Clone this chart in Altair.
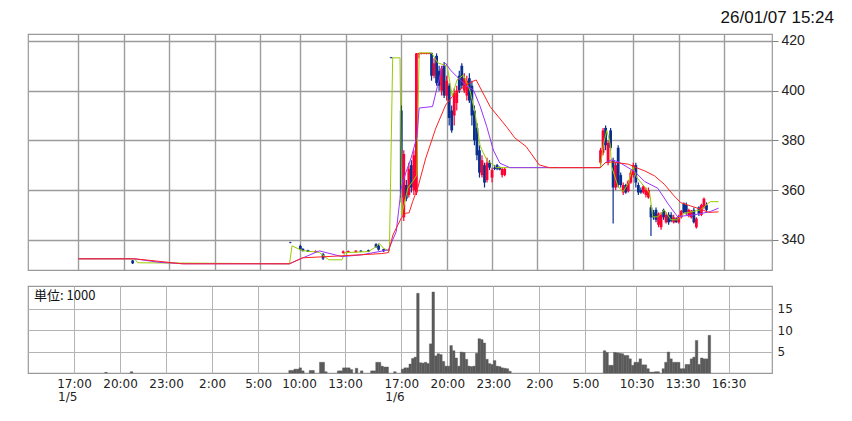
import altair as alt
import pandas as pd

# ---------------- axis definitions (x = compressed 10-minute trading slots) ----------------
tick_slots = [18, 36, 54, 72, 90, 106, 124, 146, 164, 182, 200, 218, 238, 256, 274]
tick_labels = ["17:00", "20:00", "23:00", "2:00", "5:00", "10:00", "13:00",
               "17:00", "20:00", "23:00", "2:00", "5:00", "10:30", "13:30", "16:30"]
date_slots = [18, 146]
date_labels = ["1/5", "1/6"]
price_ticks = [340, 360, 380, 400, 420]
vol_ticks = [5, 10, 15]
stamp_text = ["26/01/07 15:24"]
unit_text = ["単位: 1000"]

# ---------------- candles ----------------
c_slot = [23, 39.5,
          102, 106, 107, 109, 112, 115, 123, 125, 128, 130, 133, 136, 137, 139,
          142, 146, 147, 148, 149, 150, 151, 152, 153, 154, 155, 156, 157, 158, 159, 160,
          161, 162, 163, 164, 165, 166, 167, 168, 169, 170, 171, 172, 173, 174, 175, 176,
          177, 178, 179, 180, 181, 182, 183, 184, 185, 186, 187,
          225, 226, 227, 228, 229, 230, 231, 232, 233, 234, 235, 236, 237, 238, 239, 240,
          241, 242, 243, 244, 245, 246, 247, 248, 249, 250, 251, 252, 253, 254, 255, 256,
          257, 258, 259, 260, 261, 262, 263, 264, 265, 266, 267]
c_open = [332.2, 331.6,
          339.0, 337.5, 336.3, 335.8, 335.0, 334.2, 334.6, 335.0, 335.0, 335.6, 335.8, 338.2, 337.6, 336.2,
          413.4, 392.0, 349.0, 362.0, 358.0, 370.0, 360.0, 359.0, 414.6, 414.8, 414.8, 414.8, 414.8, 415.2, 406.0, 414.0,
          408.0, 400.0, 410.0, 398.0, 402.0, 392.0, 390.0, 395.0, 406.0, 410.0, 400.0, 398.0, 405.0, 402.0, 392.0, 385.0,
          376.0, 366.0, 370.0, 364.0, 371.0, 365.0, 369.0, 370.0, 369.0, 366.0, 366.0,
          371.0, 375.0, 385.0, 371.0, 384.0, 372.0, 361.0, 377.0, 366.0, 359.0, 362.0, 359.5, 363.0, 366.0, 370.0, 362.0,
          360.0, 359.0, 358.0, 357.0, 353.0, 351.0, 352.0, 346.0, 345.0, 352.0, 347.0, 350.0, 350.0, 347.0, 348.5, 347.0,
          349.0, 354.5, 354.0, 349.5, 349.0, 352.0, 345.0, 353.0, 350.0, 353.0, 354.0]
c_high = [332.6, 331.8,
          339.2, 338.0, 336.6, 336.0, 335.7, 334.6, 335.6, 335.6, 335.8, 335.8, 336.0, 338.6, 338.4, 336.4,
          413.5, 394.0, 376.0, 364.0, 371.0, 372.0, 376.0, 415.2, 415.2, 415.2, 415.2, 415.2, 415.2, 415.2, 413.0, 415.0,
          410.0, 410.0, 411.5, 406.0, 403.0, 394.0, 401.0, 402.0, 408.0, 411.0, 407.0, 406.0, 407.0, 404.0, 394.0, 387.0,
          378.0, 374.0, 371.0, 373.0, 372.0, 369.0, 370.0, 370.5, 369.5, 369.0, 369.0,
          377.0, 385.0, 386.0, 380.0, 385.0, 373.0, 371.0, 378.0, 367.0, 363.0, 362.5, 364.0, 368.0, 371.0, 371.0, 363.0,
          361.0, 362.0, 361.0, 361.0, 354.0, 352.0, 353.0, 351.0, 351.0, 352.5, 351.0, 351.0, 351.0, 350.0, 349.0, 350.0,
          352.0, 355.0, 355.0, 352.5, 352.0, 353.0, 349.0, 353.5, 354.5, 357.0, 355.0]
c_low = [332.2, 330.2,
         338.6, 335.8, 335.2, 335.0, 334.8, 331.8, 334.4, 334.8, 334.8, 335.0, 335.0, 336.8, 335.6, 335.0,
         413.0, 355.0, 347.5, 355.5, 357.0, 359.0, 358.0, 358.0, 413.0, 414.6, 414.6, 414.6, 414.6, 404.0, 405.0, 402.0,
         400.0, 398.0, 397.0, 396.0, 386.0, 383.0, 386.0, 392.0, 399.0, 401.0, 399.0, 396.0, 395.0, 386.0, 378.0, 372.0,
         365.0, 365.0, 361.0, 363.0, 368.0, 363.0, 368.0, 368.0, 368.0, 365.0, 365.5,
         370.0, 374.0, 376.0, 370.0, 376.0, 346.5, 360.0, 361.0, 361.0, 358.0, 358.5, 359.0, 362.5, 365.0, 361.0, 358.0,
         358.5, 358.5, 357.0, 356.5, 341.5, 348.0, 347.0, 345.0, 344.0, 348.0, 346.5, 346.0, 347.0, 346.5, 346.8, 346.5,
         348.5, 350.5, 350.0, 349.0, 348.5, 346.5, 344.5, 349.5, 349.5, 352.5, 351.0]
c_close = [332.5, 330.5,
           338.8, 336.2, 335.5, 335.2, 335.4, 332.4, 335.3, 335.4, 335.6, 335.2, 335.2, 337.0, 336.0, 335.4,
           413.1, 357.0, 374.5, 356.5, 368.5, 361.0, 374.0, 415.0, 415.2, 415.2, 415.2, 415.2, 415.2, 406.0, 411.0, 403.0,
           402.0, 409.0, 398.0, 404.0, 389.0, 384.0, 399.0, 400.0, 400.0, 402.0, 405.0, 404.0, 396.0, 390.0, 380.0, 374.0,
           367.0, 372.0, 363.0, 371.0, 369.0, 368.0, 368.5, 368.5, 368.2, 368.5, 368.5,
           376.0, 384.0, 378.0, 379.0, 377.0, 361.0, 370.0, 362.0, 362.0, 362.0, 359.0, 363.5, 367.0, 370.0, 363.0, 359.0,
           359.0, 361.5, 360.0, 360.0, 349.0, 349.0, 348.0, 350.5, 350.0, 349.0, 350.0, 347.0, 347.5, 349.0, 347.0, 349.5,
           351.5, 351.0, 351.0, 352.0, 351.5, 347.0, 348.5, 350.5, 354.0, 356.5, 352.0]

# ---------------- moving averages ----------------
g_slot = [18, 40.3, 41.5, 101.7, 102.7, 106.8, 113.5, 117.3, 122.5, 123.7, 133, 136.2, 137.3, 139, 141.3,
          142.6, 145.5, 146.2, 148.6, 150.5, 152.2, 153.1, 158.0, 160.5, 164.2, 166.2, 168.1, 170.7, 173.3,
          175.2, 177.3, 179.9, 183.8, 224.9, 226.2, 227.5, 228.8, 229.4, 230.7, 232.0, 234.0, 235.9, 237.9,
          239.2, 241.8, 244.5, 245.7, 247.7, 250.3, 252.9, 255.5, 258.1, 261.4, 264.6, 268.5, 271.8]
g_val = [332.3, 332.3, 330.7, 330.3, 337.5, 335.6, 334.9, 331.9, 331.9, 334.8, 335.2, 337.3, 338.5, 336.5, 335.5,
         413.2, 413.2, 350.0, 360.8, 363.4, 366.0, 415.2, 415.2, 411.2, 409.9, 397.8, 404.3, 406.3, 399.8,
         391.3, 377.6, 372.1, 369.0, 369.0, 378.7, 384.0, 378.7, 369.4, 365.3, 361.3, 359.3, 362.6, 369.4,
         365.3, 362.0, 358.7, 349.2, 349.2, 352.0, 348.0, 348.0, 350.6, 351.3, 352.0, 355.3, 355.3]

p_slot = [18, 40.3, 50, 60, 101.7, 106.8, 113.5, 122.5, 130.3, 140.9, 144.0, 146.0, 147.9, 149.9, 152.2,
          153.1, 158.4, 160.3, 162.3, 163.6, 165.5, 168.1, 172.1, 174.6, 177.3, 179.9, 182.5, 185.1, 189.0,
          224.9, 226.9, 229.3, 232.0, 238.6, 242.5, 247.7, 251.6, 255.5, 262.1, 268.5, 271.8]
p_val = [332.3, 332.3, 330.9, 330.3, 330.3, 332.6, 335.5, 333.2, 333.9, 335.9, 343.2, 360.8, 367.3, 372.9, 381.4,
         393.0, 393.6, 401.6, 409.7, 411.0, 408.3, 405.6, 401.6, 400.3, 393.6, 385.5, 376.1, 370.8, 369.0,
         369.0, 371.0, 372.1, 371.4, 367.4, 363.4, 360.7, 354.7, 349.3, 350.0, 351.3, 352.7]

r_slot = [18, 40.3, 48, 59, 101.7, 106.8, 122.5, 138.1, 140.9, 142.7, 146.0, 147.9, 149.1, 150.5, 152.5,
          155.7, 159.7, 163.6, 166.2, 170.1, 174.0, 175.7, 181.2, 187.7, 191.0, 195.5, 200.7, 204.7, 224.9,
          226.9, 229.5, 236.0, 239.2, 242.5, 246.4, 250.3, 254.2, 256.8, 260.7, 264.6, 267.9, 271.8]
r_val = [332.3, 332.3, 331.5, 330.3, 330.3, 332.7, 333.5, 334.4, 334.8, 341.9, 348.7, 350.7, 350.8, 355.3, 360.7,
         372.8, 384.9, 394.2, 397.6, 401.0, 403.6, 404.3, 393.6, 385.5, 381.0, 377.5, 370.1, 369.0, 369.0,
         371.0, 371.3, 370.4, 369.0, 367.7, 365.7, 362.3, 357.6, 354.9, 353.6, 352.3, 351.0, 351.2]

# ---------------- volume (thousands) ----------------
v_slot = [30, 40,
          102, 103, 104, 105, 106, 107, 110, 111, 114, 115, 116, 121, 122, 123, 124, 125, 126, 128, 130,
          134, 135, 136, 137, 138, 139, 140, 143,
          146, 147, 148, 149, 150, 151, 152, 153, 154, 155, 156, 157, 158, 159, 160, 161, 162, 163, 164,
          165, 166, 167, 168, 169, 170, 171, 172, 173, 174, 175, 176, 177, 178, 179, 180, 181, 182, 183,
          184, 185, 186, 187, 188,
          225, 226, 227, 228, 229, 230, 231, 232, 233, 234, 235, 236, 237, 238, 239, 240, 241, 242, 243,
          244, 245, 246, 248, 249, 250, 251, 252, 253, 254, 255, 256, 257, 258, 259, 260, 261, 262, 263,
          264, 265, 266]
v_val = [0.15, 0.3,
         0.6, 0.6, 0.9, 0.9, 1.2, 0.5, 0.6, 0.6, 2.5, 2.5, 0.3, 0.5, 0.5, 1.2, 1.2, 1.2, 0.8, 1.1, 0.5,
         0.5, 0.5, 2.5, 2.5, 1.6, 1.4, 1.4, 0.3,
         0.9, 1.2, 1.2, 2.1, 3.4, 3.7, 18.6, 2.4, 2.3, 2.5, 2.2, 6.8, 18.9, 4.0, 4.5, 4.3, 2.7, 1.6, 1.6,
         6.4, 5.2, 3.5, 1.6, 4.9, 4.8, 3.2, 1.6, 1.5, 1.6, 4.6, 8.0, 7.8, 7.0, 3.2, 2.2, 2.0, 2.9, 1.6,
         1.5, 1.2, 1.1, 1.0, 0.4,
         5.2, 4.8, 1.8, 1.8, 4.8, 4.7, 4.6, 4.5, 4.1, 4.1, 3.3, 1.8, 2.5, 2.5, 3.3, 1.9, 1.9, 1.0, 0.2,
         0.2, 0.3, 0.3, 1.0, 2.5, 4.9, 3.3, 2.5, 2.5, 2.5, 1.0, 1.0, 2.0, 2.0, 3.3, 3.7, 7.6, 2.0, 3.5,
         3.3, 3.3, 8.8]

# ---------------- styling ----------------
W = 744
H_MAIN = 236
H_VOL = 87
X_DOMAIN = [0, 291]
Y_DOMAIN = [327.8, 422.8]
V_DOMAIN = [0, 20.3]
UP = "#ff0033"
DOWN = "#0a2f8f"
GRID_MAIN = "#9c9c9c"
GRID_VOL = "#b4b4b4"

candles = pd.DataFrame({"slot": c_slot, "open": c_open, "high": c_high, "low": c_low, "close": c_close})
ma_g = pd.DataFrame({"slot": g_slot, "value": g_val})
ma_p = pd.DataFrame({"slot": p_slot, "value": p_val})
ma_r = pd.DataFrame({"slot": r_slot, "value": r_val})
vol = pd.DataFrame({"slot": v_slot, "vol": v_val})
dates = pd.DataFrame({"slot": date_slots, "label": date_labels})

xscale = alt.Scale(domain=X_DOMAIN, nice=False, zero=False)
yscale = alt.Scale(domain=Y_DOMAIN, nice=False, zero=False)

x_main = alt.X("slot:Q", scale=xscale,
               axis=alt.Axis(values=tick_slots, labels=False, ticks=False, domain=False, grid=True,
                             gridColor=GRID_MAIN, gridWidth=1.4, title=None))
y_axis = alt.Axis(orient="right", values=price_ticks, title=None, grid=True, gridColor=GRID_MAIN,
                  gridWidth=1.4, domain=False, ticks=True, tickSize=6, tickColor="#808080",
                  labelFont="Liberation Sans", labelFontSize=14, labelColor="#222222", labelPadding=3)

dir_color = alt.Color("dir:N", scale=alt.Scale(domain=["up", "down"], range=[UP, DOWN]), legend=None)

base_c = alt.Chart(candles).transform_calculate(
    dir="datum.close >= datum.open ? 'up' : 'down'")

wicks = base_c.mark_rule(strokeWidth=1.2).encode(
    x=x_main,
    y=alt.Y("low:Q", scale=yscale, axis=y_axis),
    y2="high:Q",
    color=dir_color)

bodies = base_c.mark_bar(size=2.8).encode(
    x=x_main,
    y=alt.Y("open:Q", scale=yscale, axis=y_axis),
    y2="close:Q",
    color=dir_color)


def ma_line(df, color):
    return alt.Chart(df).mark_line(color=color, strokeWidth=1).encode(
        x=x_main, y=alt.Y("value:Q", scale=yscale, axis=y_axis))


stamp = alt.Chart(pd.DataFrame({"t": stamp_text})).mark_text(
    align="right", baseline="middle", font="Liberation Sans", fontSize=17, color="#111111"
).encode(text="t:N", x=alt.value(W + 62), y=alt.value(-16))

main = alt.layer(
    wicks, bodies,
    ma_line(ma_g, "#99cc00"),
    ma_line(ma_p, "#9933ff"),
    ma_line(ma_r, "#ff2020"),
    stamp,
).properties(width=W, height=H_MAIN)

label_expr = "[" + ",".join("'%s'" % t for t in tick_labels) + "][indexof([" + \
    ",".join(str(v) for v in tick_slots) + "], datum.value)]"

x_vol = alt.X("slot:Q", scale=xscale,
              axis=alt.Axis(values=tick_slots, labelExpr=label_expr, ticks=False, domain=False,
                            grid=True, gridColor=GRID_VOL, gridWidth=1, title=None,
                            labelFont="DejaVu Sans", labelFontSize=12, labelColor="#222222",
                            labelPadding=5, labelFlush=False, labelOverlap=False))
y_vol = alt.Y("vol:Q", scale=alt.Scale(domain=V_DOMAIN, nice=False, zero=True),
              axis=alt.Axis(orient="right", values=vol_ticks, title=None, grid=True, gridColor=GRID_VOL,
                            domain=False, ticks=False, labelFont="DejaVu Sans", labelFontSize=12,
                            labelColor="#222222", labelPadding=5))

vbars = alt.Chart(vol).transform_calculate(
    slot2="datum.slot + 1", base="0"
).mark_bar(color="#5a5a5a", stroke="#5a5a5a", strokeWidth=0.4).encode(
    x=x_vol, x2="slot2:Q", y=y_vol, y2="base:Q")

date_txt = alt.Chart(dates).mark_text(
    align="left", baseline="middle", font="DejaVu Sans", fontSize=12, color="#222222", dx=-16
).encode(x=alt.X("slot:Q", scale=xscale), y=alt.value(H_VOL + 24), text="label:N")

unit = alt.Chart(pd.DataFrame({"t": unit_text})).mark_text(
    align="left", baseline="middle", font="Noto Sans CJK JP", fontSize=13, color="#111111"
).encode(text="t:N", x=alt.value(6), y=alt.value(10))

volume = alt.layer(vbars, date_txt, unit).properties(width=W, height=H_VOL)

chart = alt.vconcat(main, volume, spacing=14).properties(
    padding={"left": 19, "top": 0, "right": 5, "bottom": 5}
).configure_view(stroke="#999999", strokeWidth=1.2).configure_concat(spacing=14)

chart.save("out.html", embed_options={"renderer": "svg", "actions": False})
